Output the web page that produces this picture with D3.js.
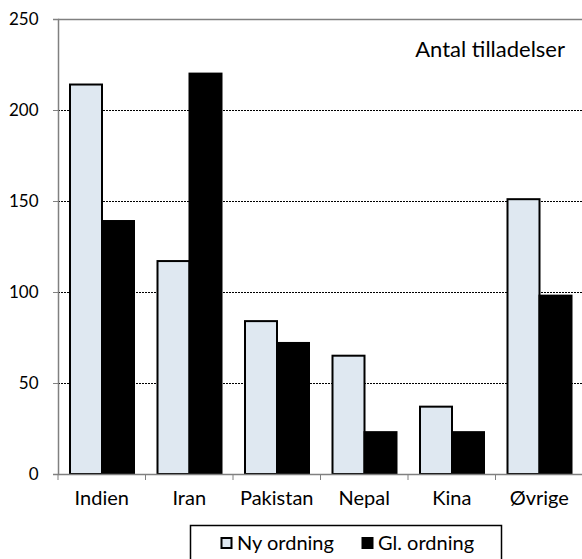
<!DOCTYPE html>
<html><head><meta charset="utf-8">
<script src="https://cdn.jsdelivr.net/npm/d3@7"></script>
<style>body{margin:0;background:#fff}svg{display:block}text{font-family:Lato,"DejaVu Sans",sans-serif}</style>
</head><body>
<script>
const categories = ["Indien","Iran","Pakistan","Nepal","Kina","Øvrige"];
const nyOrdning = [214,117,84,65,37,151];
const glOrdning = [139,220,72,23,23,98];
const seriesNames = ["Ny ordning","Gl. ordning"];
const yTicks = [0,50,100,150,200,250];
const title = "Antal tilladelser";

(function(){
const W=582,H=559;
const svg=d3.select("body").append("svg").attr("width",W).attr("height",H);
const mLeft=58,mRight=583,mTop=19,mBottom=474;
const x=d3.scaleBand().domain(categories).range([mLeft,mRight]).paddingInner(0).paddingOuter(0);
const x1=d3.scaleBand().domain(seriesNames).range([12,x.bandwidth()-11.5]);
const y=d3.scaleLinear().domain([0,250]).range([mBottom,mTop]);
const fills=["#dfe8f1","#000000"];

// gridlines
svg.append("g").selectAll("line").data(yTicks.filter(d=>d>0&&d<250)).join("line")
 .attr("x1",mLeft).attr("x2",W).attr("y1",d=>Math.round(y(d))+0.5).attr("y2",d=>Math.round(y(d))+0.5)
 .attr("stroke","#000").attr("stroke-width",1).attr("stroke-dasharray","2,1");
// top border
svg.append("line").attr("x1",mLeft).attr("x2",W).attr("y1",mTop+0.5).attr("y2",mTop+0.5).attr("stroke","#808080").attr("stroke-width",1.5);

// bars
const data=categories.map((c,i)=>({c,vals:[nyOrdning[i],glOrdning[i]]}));
const g=svg.append("g").selectAll("g").data(data).join("g").attr("transform",d=>`translate(${x(d.c)},0)`);
g.selectAll("rect").data(d=>d.vals.map((v,j)=>({v,j,s:seriesNames[j]}))).join("rect")
 .attr("x",d=>x1(d.s)).attr("width",x1.bandwidth())
 .attr("y",d=>y(d.v)).attr("height",d=>y(0)-y(d.v))
 .attr("fill",d=>fills[d.j]).attr("stroke","#000").attr("stroke-width",2);

// y axis
const ya=svg.append("g").attr("transform",`translate(${mLeft},0)`)
 .call(d3.axisLeft(y).tickValues(yTicks).tickSize(5).tickPadding(14.5));
ya.select(".domain").attr("stroke","#808080").attr("stroke-width",1.5);
ya.selectAll(".tick line").attr("stroke","#808080");
ya.selectAll("text").attr("font-size",17).attr("fill","#000").attr("font-family","Liberation Sans, Arial, sans-serif");

// x axis
const xa=svg.append("g").attr("transform",`translate(0,${mBottom})`)
 .call(d3.axisBottom(x).tickSize(0).tickPadding(0));
xa.select(".domain").attr("stroke","#808080").attr("stroke-width",1.5);
xa.selectAll("text").attr("font-size",20).attr("fill","#000").attr("dy",null).attr("y",31);
svg.append("g").selectAll("line").data(categories.concat(["end"])).join("line")
 .attr("x1",(d,i)=>mLeft+i*x.bandwidth()).attr("x2",(d,i)=>mLeft+i*x.bandwidth())
 .attr("y1",mBottom).attr("y2",mBottom+6).attr("stroke","#808080").attr("stroke-width",1);

// title
svg.append("text").attr("x",565).attr("y",56.5).attr("text-anchor","end").attr("font-size",22).text(title);

// legend
svg.append("rect").attr("x",190.5).attr("y",525.5).attr("width",311).attr("height",50)
 .attr("fill","none").attr("stroke","#000").attr("stroke-width",1.5);
const lx=[221,362];
const lg=svg.append("g").selectAll("g").data(seriesNames).join("g").attr("transform",(d,i)=>`translate(${lx[i]},0)`);
lg.append("rect").attr("x",0.5).attr("y",538).attr("width",10).attr("height",10)
 .attr("fill",(d,i)=>fills[i]).attr("stroke","#000").attr("stroke-width",2);
lg.append("text").attr("x",16).attr("y",550).attr("font-size",20).text(d=>d);
})();
</script>
</body></html>
